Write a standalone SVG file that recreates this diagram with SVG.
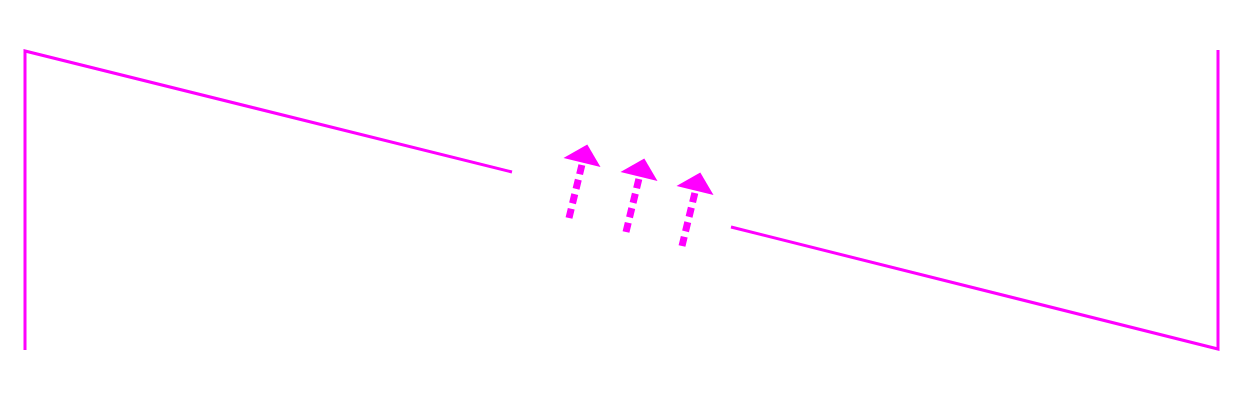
<svg xmlns="http://www.w3.org/2000/svg" xmlns:xlink="http://www.w3.org/1999/xlink" width="1250" height="400" viewBox="0 0 1250 400">
<style>
.edge{fill:none;stroke:#ff00ff;stroke-width:3;stroke-linejoin:miter}
.shaft{fill:none;stroke:#ff00ff;stroke-width:7;stroke-dasharray:9.5 5.5}
.head{fill:#ff00ff;stroke:none}
</style>
<defs>
<g id="arrow">
<path class="shaft" d="M569,218 L582.6,162"/>
<polygon class="head" points="587.3,144.5 600.5,167 563.5,158"/>
</g>
</defs>
<rect width="1250" height="400" fill="#ffffff"/>
<g id="connectors">
<polyline id="left-edge" class="edge" points="25,350 25,51 512,172"/>
<polyline id="right-edge" class="edge" points="731,227 1218,349 1218,50"/>
</g>
<g id="arrow1"><use xlink:href="#arrow"/></g>
<g id="arrow2"><use xlink:href="#arrow" transform="translate(57,14)"/></g>
<g id="arrow3"><use xlink:href="#arrow" transform="translate(113,28)"/></g>
</svg>
